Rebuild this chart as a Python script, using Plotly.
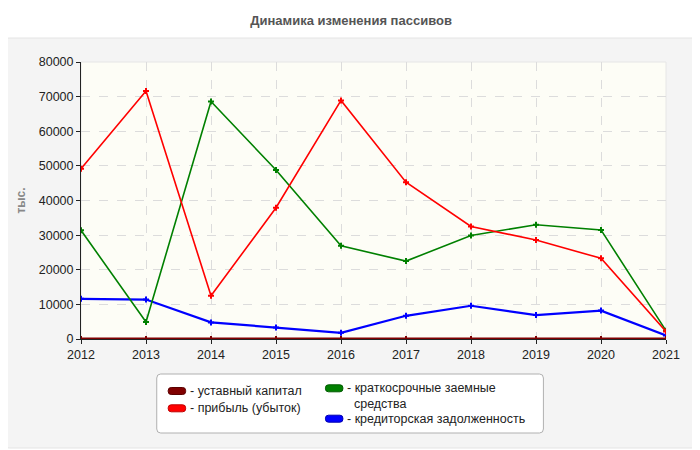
import plotly.graph_objects as go

# years on the x axis
years = [2012, 2013, 2014, 2015, 2016, 2017, 2018, 2019, 2020, 2021]

# values, thousands
ustavnyi = [10, 10, 10, 10, 10, 10, 10, 10, 10, 10]
pribyl = [49200, 71600, 12500, 37900, 68900, 45300, 32500, 28600, 23300, 2200]
kratkosroch = [31400, 4900, 68600, 48800, 26900, 22500, 29900, 33000, 31500, 2400]
kreditor = [11600, 11400, 4800, 3300, 1800, 6700, 9600, 6900, 8200, 1000]

names = ["уставный капитал", "прибыль (убыток)",
         "краткосрочные заемные<br>средства", "кредиторская задолженность"]
colors = ["#800000", "#ff0000", "#008000", "#0000ff"]
borders = ["#5a0000", "#c00000", "#005a00", "#0000b0"]
widths = [3, 1.6, 1.6, 2.2]
values = [ustavnyi, pribyl, kratkosroch, kreditor]

# plot area in figure pixels (page is offset by 8px body margin)
L, T, PW, PH = 71, 54, 587, 277


def px(x):
    return (x - L) / PW


def py(y):
    return (T + PH - y) / PH


fig = go.Figure()

# draw in reverse so the capital line ends up on top
for i in reversed(range(4)):
    fig.add_trace(go.Scatter(
        x=years, y=values[i], name=names[i], mode="lines+markers",
        line=dict(color=colors[i], width=widths[i]),
        marker=dict(symbol="cross", size=5, color=colors[i]),
        showlegend=False,
    ))


def rounded(x0, y0, x1, y1, r):
    # rounded rectangle path in paper coords, corners in pixels
    rx, ry = r / PW, r / PH
    a, b, c, d = px(x0), py(y1), px(x1), py(y0)
    return (f"M{a+rx},{b} L{c-rx},{b} Q{c},{b} {c},{b+ry} L{c},{d-ry} "
            f"Q{c},{d} {c-rx},{d} L{a+rx},{d} Q{a},{d} {a},{d-ry} "
            f"L{a},{b+ry} Q{a},{b} {a+rx},{b} Z")


# grey rounded background panel
fig.add_shape(type="path", xref="paper", yref="paper",
              path=rounded(-7, 30, 690, 440, 6),
              fillcolor="#f4f4f4", line=dict(color="#e4e4e4", width=1),
              layer="below")
# ivory plot area on top of the panel
fig.add_shape(type="rect", xref="paper", yref="paper", x0=0, x1=1, y0=0, y1=1,
              fillcolor="#fdfdf6", line=dict(color="#e6e6e6", width=1),
              layer="below")

# legend box
fig.add_shape(type="path", xref="paper", yref="paper",
              path=rounded(147, 366, 535, 425, 4),
              fillcolor="white", line=dict(color="#b0b0b0", width=1))

# legend entries: (symbol x, symbol centre y, text y)
entries = [(158.5, 383, 383), (158.5, 400.3, 400.3), (316.3, 380.3, 387.5), (316.3, 410.7, 410.5)]
for i, (sx, sy, ty) in enumerate(entries):
    fig.add_shape(type="path", xref="paper", yref="paper",
                  path=rounded(sx, sy - 3.5, sx + 17.5, sy + 3.5, 3),
                  fillcolor=colors[i], line=dict(color=borders[i], width=1))
    fig.add_annotation(xref="paper", yref="paper", x=px(sx + 20), y=py(ty),
                       xanchor="left", yanchor="middle", align="left",
                       text="- " + names[i].replace("<br>", "<br>  "),
                       showarrow=False, font=dict(size=12.5, color="#222"))

fig.update_layout(
    width=700, height=450,
    margin=dict(l=L, r=700 - L - PW, t=T, b=450 - T - PH),
    paper_bgcolor="white",
    plot_bgcolor="rgba(0,0,0,0)",
    font=dict(family="Liberation Sans, Arial", size=12, color="#222"),
    title=dict(text="<b>Динамика изменения пассивов</b>", x=px(342), xref="paper",
               xanchor="center", y=1 - 12 / 450, yanchor="middle",
               font=dict(size=13, color="#555555")),
    showlegend=False,
)

fig.update_xaxes(range=[2012, 2021], dtick=1, showline=True, linecolor="#222",
                 ticks="outside", ticklen=4, tickcolor="#222",
                 showgrid=True, gridcolor="#dcdcdc", griddash="dash",
                 zeroline=False, tickfont=dict(size=12.5, color="#222"))
fig.update_yaxes(range=[0, 80000], dtick=10000, showline=True, linecolor="#222",
                 ticks="outside", ticklen=4, tickcolor="#222",
                 showgrid=True, gridcolor="#dcdcdc", griddash="dash",
                 zeroline=False, tickformat="d",
                 title=dict(text="<b>тыс.</b>", font=dict(size=12, color="#888"), standoff=10),
                 tickfont=dict(size=12.5, color="#222"))

fig.write_html("out.html")
